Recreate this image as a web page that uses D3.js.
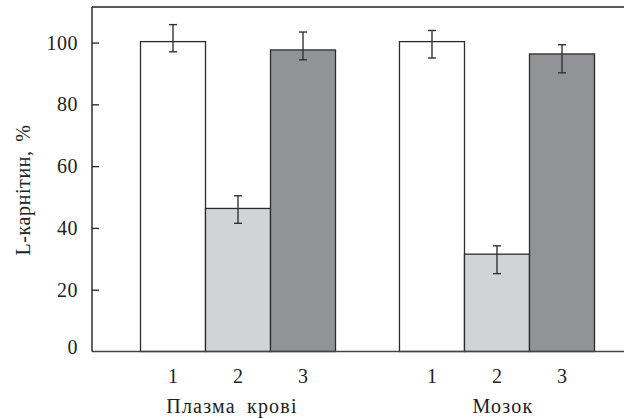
<!DOCTYPE html>
<html>
<head>
<meta charset="utf-8">
<script src="https://cdn.jsdelivr.net/npm/d3@7"></script>
<style>
  body { margin: 0; background: #fff; }
  text { font-family: "Liberation Serif", "DejaVu Serif", serif; fill: #222; }
</style>
</head>
<body>
<div id="chart"></div>
<script>
const width = 624
const height = 419

// data
const groups = ["Плазма крові", "Мозок"]
const bars = ["1", "2", "3"]
const means = [[100.3, 46.3, 97.6], [100.3, 31.5, 96.3]]
const errHigh = [[105.8, 50.4, 103.4], [103.9, 34.2, 99.3]]
const errLow = [[97.0, 41.5, 94.4], [95.0, 25.2, 90.2]]
const yTicks = [0, 20, 40, 60, 80, 100]
const fills = ["#ffffff", "#d2d3d5", "#929396"]

const margin = { left: 92, top: 7, bottom: 352 }

const svg = d3.select("#chart")
  .append("svg")
  .attr("width", width)
  .attr("height", height)

const y = d3.scaleLinear()
  .domain([0, 111.5])
  .range([351.5, margin.top])

const xGroup = d3.scaleBand()
  .domain(groups)
  .range([140.5, 594.5])
  .paddingInner(0.247)
  .paddingOuter(0)

const xBar = d3.scaleBand()
  .domain(bars)
  .range([0, xGroup.bandwidth()])

const rows = []
groups.forEach((g, gi) => {
  bars.forEach((b, bi) => {
    rows.push({ g, b, bi, v: means[gi][bi], hi: errHigh[gi][bi], lo: errLow[gi][bi] })
  })
})

// bars
svg.selectAll("rect.bar")
  .data(rows)
  .enter()
  .append("rect")
  .attr("class", "bar")
  .attr("x", d => xGroup(d.g) + xBar(d.b))
  .attr("y", d => y(d.v))
  .attr("width", xBar.bandwidth())
  .attr("height", d => y(0) - y(d.v))
  .attr("fill", d => fills[d.bi])
  .attr("stroke", "#2b2b2b")
  .attr("stroke-width", 1.3)

// error bars
const err = svg.append("g")
  .attr("stroke", "#333")
  .attr("stroke-width", 1.4)
rows.forEach(d => {
  const cx = xGroup(d.g) + xBar(d.b) + xBar.bandwidth() / 2
  err.append("line").attr("x1", cx).attr("x2", cx).attr("y1", y(d.hi)).attr("y2", y(d.lo))
  err.append("line").attr("x1", cx - 4).attr("x2", cx + 4).attr("y1", y(d.hi)).attr("y2", y(d.hi))
  err.append("line").attr("x1", cx - 4).attr("x2", cx + 4).attr("y1", y(d.lo)).attr("y2", y(d.lo))
})

// frame: top, left, bottom (open on the right)
svg.append("line")
  .attr("x1", margin.left).attr("x2", width)
  .attr("y1", margin.top).attr("y2", margin.top)
  .attr("stroke", "#222").attr("stroke-width", 1.4)
svg.append("line")
  .attr("x1", margin.left).attr("x2", width)
  .attr("y1", y(0)).attr("y2", y(0))
  .attr("stroke", "#444").attr("stroke-width", 1.5)

// y axis
const yAxis = svg.append("g")
  .attr("transform", `translate(${margin.left},0)`)
  .call(d3.axisRight(y).tickValues(yTicks).tickSize(7).tickFormat(""))
yAxis.select(".domain")
  .attr("d", `M0,${margin.top}V${y(0)}`)
  .attr("stroke", "#222").attr("stroke-width", 1.4)
yAxis.selectAll(".tick line").attr("stroke", "#222").attr("stroke-width", 1.3)
yAxis.selectAll(".tick").filter(d => d === 0).select("line").remove()

svg.selectAll("text.ytick")
  .data(yTicks)
  .enter()
  .append("text")
  .attr("class", "ytick")
  .attr("x", 78)
  .attr("y", d => y(d) - (d === 0 ? 5 : 0))
  .attr("dy", "0.35em")
  .attr("text-anchor", "end")
  .attr("font-size", 20)
  .attr("letter-spacing", 0.5)
  .text(d => d)

// bar numbers
svg.selectAll("text.xbar")
  .data(rows)
  .enter()
  .append("text")
  .attr("class", "xbar")
  .attr("x", d => xGroup(d.g) + xBar(d.b) + xBar.bandwidth() / 2)
  .attr("y", 383)
  .attr("text-anchor", "middle")
  .attr("font-size", 20)
  .text(d => d.b)

// group labels
svg.selectAll("text.group")
  .data(groups)
  .enter()
  .append("text")
  .attr("class", "group")
  .attr("x", (d, i) => xGroup(d) + xGroup.bandwidth() / 2 + (i === 0 ? -6 : 6))
  .attr("y", 413)
  .attr("text-anchor", "middle")
  .attr("font-size", 20)
  .attr("letter-spacing", 1.2)
  .attr("word-spacing", 5)
  .text(d => d)

// y label
svg.append("text")
  .attr("transform", "translate(30,190) rotate(-90)")
  .attr("text-anchor", "middle")
  .attr("font-size", 20)
  .attr("letter-spacing", 0.6)
  .attr("word-spacing", 3)
  .text("L-карнітин, %")
</script>
</body>
</html>
